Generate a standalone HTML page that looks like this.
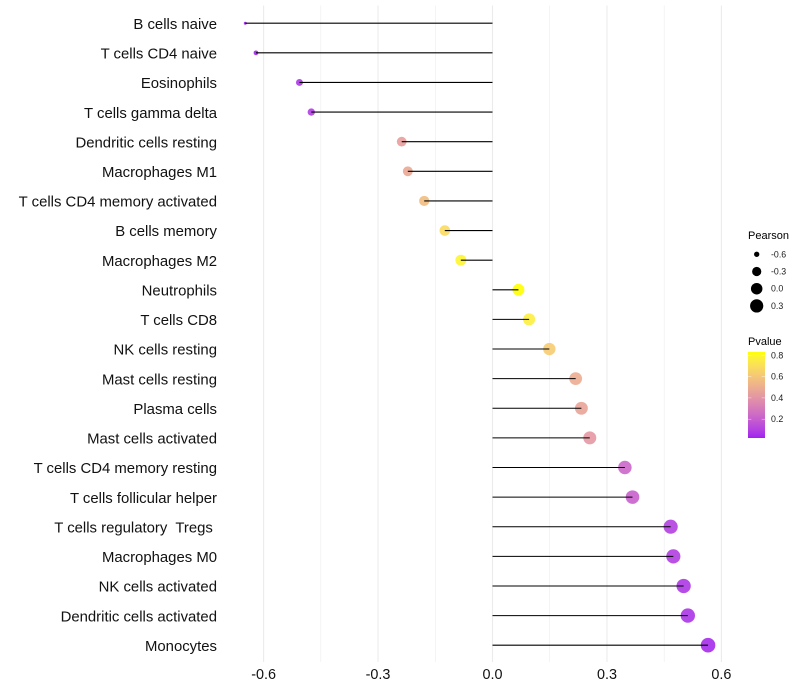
<!DOCTYPE html>
<html>
<head>
<meta charset="utf-8">
<title>Lollipop chart</title>
<style>
html,body{margin:0;padding:0;background:#fff;}
svg{display:block;font-family:"Liberation Sans",sans-serif;}
text{white-space:pre;}
</style>
</head>
<body>
<svg id="chart" width="800" height="700" viewBox="0 0 800 700" xmlns="http://www.w3.org/2000/svg">
  <rect width="800" height="700" fill="#ffffff"></rect>
  <g id="grid"></g>
  <g id="points"></g>
  <g id="stems"></g>
  <g id="ylabels"></g>
  <g id="xlabels"></g>
  <g id="size-legend"></g>
  <defs>
    <linearGradient id="pvalue-gradient" x1="0" y1="1" x2="0" y2="0"></linearGradient>
  </defs>
  <g id="color-legend"></g>
</svg>
<script>
const categories = ["B cells naive","T cells CD4 naive","Eosinophils","T cells gamma delta","Dendritic cells resting","Macrophages M1","T cells CD4 memory activated","B cells memory","Macrophages M2","Neutrophils","T cells CD8","NK cells resting","Mast cells resting","Plasma cells","Mast cells activated","T cells CD4 memory resting","T cells follicular helper","T cells regulatory  Tregs ","Macrophages M0","NK cells activated","Dendritic cells activated","Monocytes"];
const pearson = [-0.648,-0.620,-0.506,-0.475,-0.238,-0.222,-0.179,-0.125,-0.083,0.068,0.096,0.149,0.218,0.233,0.255,0.347,0.367,0.467,0.474,0.501,0.512,0.565];
const pvalues = [0.012,0.020,0.065,0.085,0.44,0.47,0.56,0.68,0.79,0.83,0.76,0.62,0.49,0.46,0.41,0.22,0.20,0.09,0.085,0.07,0.06,0.035];
const xTicks = [-0.6,-0.3,0,0.3,0.6];
const xMinorTicks = [-0.45,-0.15,0.15,0.45];
const sizeLegendValues = [-0.6,-0.3,0,0.3];
const colorLegendValues = [0.2,0.4,0.6,0.8];

const NS = "http://www.w3.org/2000/svg";
const svgEl = (parent, tag, attrs) => {
  const e = document.createElementNS(NS, tag);
  for (const k in attrs) e.setAttribute(k, attrs[k]);
  parent.appendChild(e);
  return e;
};

const xScale = v => 492.5 + v * 381.5;
const yScale = i => 23.2 + i * 29.62;
const pMin = Math.min(...pearson), pMax = Math.max(...pearson);
const radius = v => 1.5 + 5.8 * Math.sqrt(Math.max(0, (v - pMin) / (pMax - pMin)));

const toLinear = c => { c /= 255; return c > 0.04045 ? Math.pow((c + 0.055) / 1.055, 2.4) : c / 12.92; };
const fromLinear = c => 255 * (c > 0.0031308 ? 1.055 * Math.pow(c, 1 / 2.4) - 0.055 : 12.92 * c);
const labF = t => t > 0.008856 ? Math.cbrt(t) : 7.787 * t + 16 / 116;
const labInv = t => t > 0.2069 ? t * t * t : (t - 16 / 116) / 7.787;
const toLab = ([r, g, b]) => {
  const R = toLinear(r), G = toLinear(g), B = toLinear(b);
  const x = labF((0.4124 * R + 0.3576 * G + 0.1805 * B) / 0.95047);
  const y = labF(0.2126 * R + 0.7152 * G + 0.0722 * B);
  const z = labF((0.0193 * R + 0.1192 * G + 0.9505 * B) / 1.08883);
  return [116 * y - 16, 500 * (x - y), 200 * (y - z)];
};
const fromLab = ([L, a, b]) => {
  const fy = (L + 16) / 116;
  const X = 0.95047 * labInv(fy + a / 500), Y = labInv(fy), Z = 1.08883 * labInv(fy - b / 200);
  const clamp = v => Math.round(Math.min(255, Math.max(0, fromLinear(v))));
  return [clamp(3.2406 * X - 1.5372 * Y - 0.4986 * Z), clamp(-0.9689 * X + 1.8758 * Y + 0.0415 * Z), clamp(0.0557 * X - 0.204 * Y + 1.057 * Z)];
};
const labLow = toLab([160, 32, 240]);
const labHigh = toLab([255, 255, 0]);
const colorDomainMin = Math.min(...pvalues);
const colorDomainMax = Math.max(...pvalues);
const colorAt = t => {
  const c = fromLab(labLow.map((v, i) => v + (labHigh[i] - v) * t));
  return "rgb(" + c.join(",") + ")";
};
const pColor = p => colorAt(Math.min(1, Math.max(0, (p - colorDomainMin) / (colorDomainMax - colorDomainMin))));

const grid = document.getElementById("grid");


xMinorTicks.forEach(v => {
  const l = svgEl(grid, "line", {x1: xScale(v), x2: xScale(v), y1: 5.5, y2: 662, stroke: "#ebebeb", "stroke-width": 0.55});
  
  
});
xTicks.forEach(v => {
  const l = svgEl(grid, "line", {x1: xScale(v), x2: xScale(v), y1: 5.5, y2: 662, stroke: "#ebebeb", "stroke-width": 1.07});
  
  
});

const pointsG = document.getElementById("points");


const stemsG = document.getElementById("stems");


const yG = document.getElementById("ylabels");



categories.forEach((name, i) => {
  const y = yScale(i);
  const c = svgEl(pointsG, "circle", {cx: xScale(pearson[i]), cy: y, r: radius(pearson[i]), fill: pColor(pvalues[i]), "fill-opacity": 0.9});
  
  
  const s = svgEl(stemsG, "line", {x1: xScale(0), x2: xScale(pearson[i]), y1: y, y2: y, stroke: "#000", "stroke-width": 1.07});
  
  
  const t = svgEl(yG, "text", {x: 217, y: y + 5.7, "text-anchor": "end", "font-size": 14.9, fill: "#111111"});
  t.textContent = name;
  
  
});

const xG = document.getElementById("xlabels");


xTicks.forEach(v => {
  const t = svgEl(xG, "text", {x: xScale(v), y: 679, "text-anchor": "middle", "font-size": 14.4, fill: "#111111"});
  t.textContent = v.toFixed(1);
  
  
});

const sizeG = document.getElementById("size-legend");


const sizeTitle = svgEl(sizeG, "text", {x: 748, y: 239, "font-size": 11, fill: "#000"});
sizeTitle.textContent = "Pearson";


sizeLegendValues.forEach((v, i) => {
  const y = 254.3 + i * 17.2;
  const k = svgEl(sizeG, "circle", {cx: 756.7, cy: y, r: radius(v), fill: "#000"});
  
  
  const t = svgEl(sizeG, "text", {x: 771, y: y + 3, "font-size": 8.8, fill: "#1a1a1a"});
  t.textContent = v.toFixed(1);
  
  
});

const grad = document.getElementById("pvalue-gradient");
for (let k = 0; k <= 40; k++) {
  svgEl(grad, "stop", {offset: (k * 2.5) + "%", "stop-color": colorAt(k / 40)});
}
const colorG = document.getElementById("color-legend");


const colorTitle = svgEl(colorG, "text", {x: 748, y: 345, "font-size": 11, fill: "#000"});
colorTitle.textContent = "Pvalue";


const bar = svgEl(colorG, "rect", {x: 748, y: 352, width: 17, height: 86, fill: "url(#pvalue-gradient)"});


const barY = p => 440.5 - p * 106.5;
colorLegendValues.forEach(v => {
  const y = barY(v);
  [[748, 751.4], [761.6, 765]].forEach(seg => {
    const m = svgEl(colorG, "line", {x1: seg[0], x2: seg[1], y1: y, y2: y, stroke: "#ffffff", "stroke-opacity": 0.7, "stroke-width": 0.55});
    
    
  });
  const t = svgEl(colorG, "text", {x: 771, y: y + 3, "font-size": 8.8, fill: "#1a1a1a"});
  t.textContent = v.toFixed(1);
  
  
});
</script>
</body>
</html>
